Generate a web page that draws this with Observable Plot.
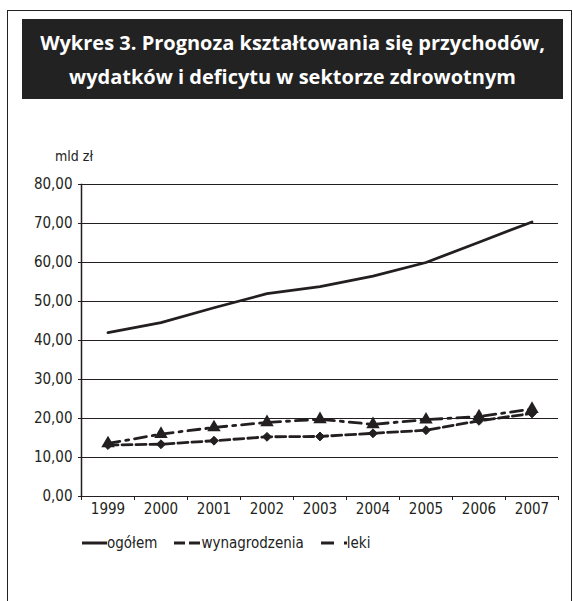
<!DOCTYPE html>
<html>
<head>
<meta charset="utf-8">
<script src="https://cdn.jsdelivr.net/npm/d3@7"></script>
<script src="https://cdn.jsdelivr.net/npm/@observablehq/plot@0.6"></script>
<style>
  html, body { margin: 0; padding: 0; background: #fff; width: 573px; height: 601px; overflow: hidden; }
  #frame { position: absolute; left: 7px; top: 10px; width: 565px; height: 620px; border: 1.5px solid #222; box-sizing: border-box; }
  #title { position: absolute; left: 22px; top: 19px; width: 541px; height: 80px; background: #222; color: #fff;
           font-family: "Open Sans", "Noto Sans", sans-serif; font-weight: 700; font-size: 20px; line-height: 34px;
           text-align: center; padding-top: 7px; box-sizing: border-box; }
  #unit { position: absolute; left: 55px; top: 148px; font-family: "Liberation Sans Narrow", "DejaVu Sans Condensed", sans-serif; font-size: 14px; color: #222; }
  #chart { position: absolute; left: 0; top: 140px; }
  #legend { position: absolute; left: 82px; top: 534px; font-family: "Liberation Sans Narrow", "DejaVu Sans Condensed", sans-serif; font-size: 15px; color: #222; display: flex; align-items: center; }
  #legend .item { display: flex; align-items: center; margin-right: 17px; }
  #legend svg { display: block; }
</style>
</head>
<body>
<div id="frame"></div>
<div id="title">Wykres 3. Prognoza kształtowania się przychodów,<br>wydatków i deficytu w sektorze zdrowotnym</div>
<div id="unit">mld zł</div>
<div id="chart"></div>
<div id="legend"></div>
<script>
const years = [1999, 2000, 2001, 2002, 2003, 2004, 2005, 2006, 2007];
const ogolem = [42.0, 44.6, 48.4, 52.0, 53.8, 56.5, 60.0, 65.2, 70.4];
const wynagrodzenia = [13.2, 13.4, 14.3, 15.3, 15.4, 16.2, 17.0, 19.4, 21.3];
const leki = [13.6, 16.0, 17.7, 19.0, 19.8, 18.5, 19.7, 20.5, 22.4];
const yTicks = [0, 10, 20, 30, 40, 50, 60, 70, 80];
const seriesNames = ["ogółem", "wynagrodzenia", "leki"];

const ink = "#231f20";
const dashes = {"ogółem": null, "wynagrodzenia": "10,4", "leki": "12,6,3,6"};

const rows = [];
years.forEach((y, i) => {
  rows.push({year: y, value: ogolem[i], series: "ogółem"});
  rows.push({year: y, value: wynagrodzenia[i], series: "wynagrodzenia"});
  rows.push({year: y, value: leki[i], series: "leki"});
});
const bounds = [years[0] - 0.5, ...years.map(y => y + 0.5)];
const fmt = d3.format(".2f");
const fontFam = '"Liberation Sans Narrow", "DejaVu Sans Condensed", sans-serif';

const chart = Plot.plot({
  width: 573,
  height: 386,
  marginTop: 44,
  marginBottom: 30,
  marginLeft: 81,
  marginRight: 15,
  style: {fontFamily: fontFam, fontSize: "15px", color: ink, background: "transparent"},
  x: {domain: [years[0] - 0.5, years[years.length - 1] + 0.5]},
  y: {domain: [0, 80]},
  marks: [
    Plot.ruleY(yTicks, {stroke: ink, strokeWidth: 1.2}),
    Plot.axisY(yTicks, {tickSize: 3, tickPadding: 6, tickFormat: d => fmt(d).replace(".", ","), label: null, stroke: ink}),
    Plot.axisX(bounds, {tickSize: 4, tickFormat: () => "", label: null, stroke: ink}),
    Plot.axisX(years, {tickSize: 0, tickPadding: 7, tickFormat: d => String(d), label: null}),
    Plot.frame({anchor: "left", stroke: ink, strokeWidth: 1.5}),
    Plot.line(rows.filter(d => d.series === "ogółem"), {x: "year", y: "value", stroke: ink, strokeWidth: 2.8}),
    Plot.line(rows.filter(d => d.series === "wynagrodzenia"), {x: "year", y: "value", stroke: ink, strokeWidth: 2.8, strokeDasharray: dashes["wynagrodzenia"]}),
    Plot.line(rows.filter(d => d.series === "leki"), {x: "year", y: "value", stroke: ink, strokeWidth: 2.8, strokeDasharray: dashes["leki"]}),
    Plot.dot(rows.filter(d => d.series === "wynagrodzenia"), {x: "year", y: "value", symbol: "diamond2", fill: ink, stroke: ink, strokeWidth: 1, r: 4}),
    Plot.dot(rows.filter(d => d.series === "leki"), {x: "year", y: "value", symbol: "triangle", fill: ink, r: 5})
  ]
});
document.getElementById("chart").appendChild(chart);

const legend = document.getElementById("legend");
const widths = {"ogółem": 25, "wynagrodzenia": 27, "leki": 26};
seriesNames.forEach(name => {
  const item = document.createElement("div");
  item.className = "item";
  const w = widths[name];
  const svg = d3.create("svg").attr("width", w).attr("height", 10);
  svg.append("line").attr("x1", 0).attr("x2", w).attr("y1", 5).attr("y2", 5)
    .attr("stroke", ink).attr("stroke-width", 3)
    .attr("stroke-dasharray", name === "wynagrodzenia" ? "11,4" : name === "leki" ? "13,10,3,3" : null);
  item.appendChild(svg.node());
  const t = document.createElement("span");
  t.textContent = name;
  item.appendChild(t);
  legend.appendChild(item);
});
</script>
</body>
</html>
